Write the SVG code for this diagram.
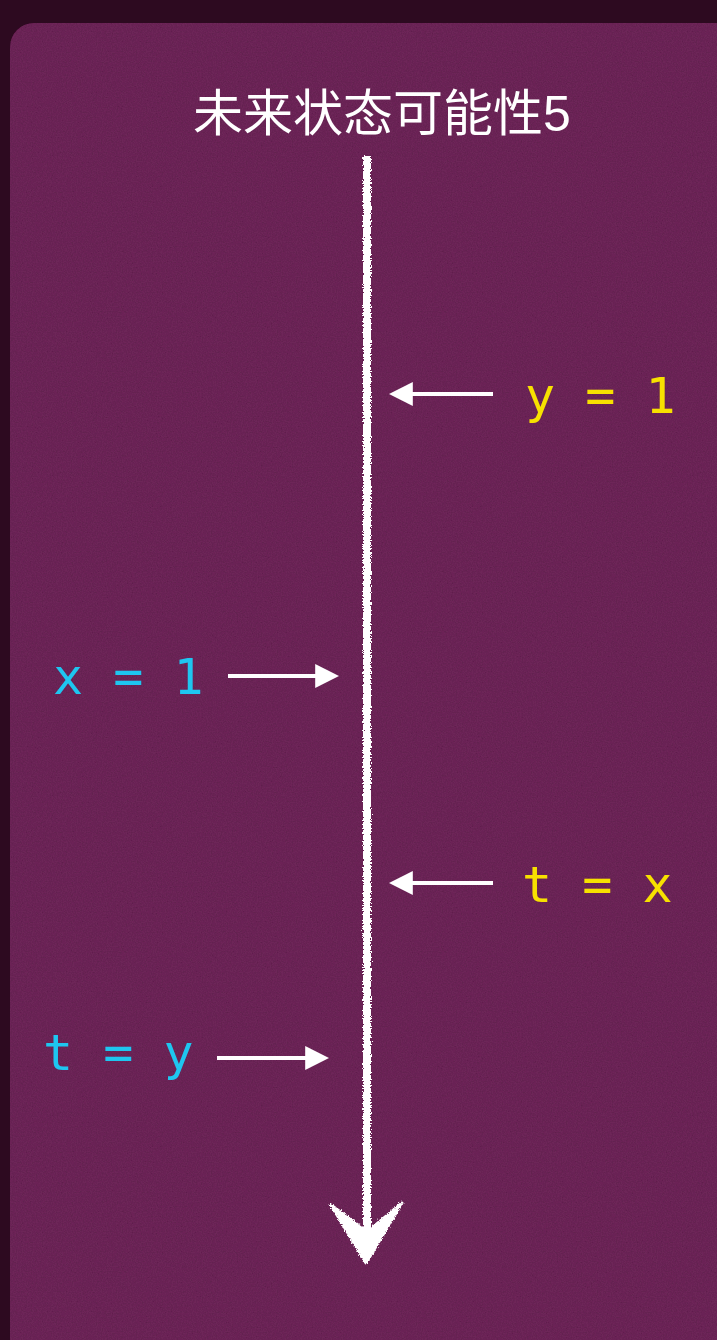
<svg xmlns="http://www.w3.org/2000/svg" width="717" height="1340" viewBox="0 0 717 1340">
  <style>
    .lbl { font-family: "DejaVu Sans Mono", "Liberation Mono", monospace; font-size: 50px; white-space: pre; }
    .yel { fill: #f7e100; }
    .cyn { fill: #1ec6f0; }
    .title { font-family: "Liberation Sans", "Noto Sans CJK SC", sans-serif; font-size: 50px; fill: #ffffff; }
    .arr { stroke: #ffffff; stroke-width: 4; fill: none; }
  </style>
  <defs>
    <filter id="paper" x="0" y="0" width="100%" height="100%">
      <feTurbulence type="fractalNoise" baseFrequency="0.8" numOctaves="2" seed="3" result="n"/>
      <feColorMatrix in="n" type="matrix" values="0 0 0 0 0  0 0 0 0 0  0 0 0 0 0  0.5 0 0 0 -0.2" result="c"/>
      <feComposite in="c" in2="SourceGraphic" operator="in" result="cc"/>
      <feMerge><feMergeNode in="SourceGraphic"/><feMergeNode in="cc"/></feMerge>
    </filter>
    <filter id="chalk" x="-50%" y="-5%" width="200%" height="110%">
      <feTurbulence type="fractalNoise" baseFrequency="0.7" numOctaves="2" seed="7" result="t"/>
      <feDisplacementMap in="SourceGraphic" in2="t" scale="5" xChannelSelector="R" yChannelSelector="G"/>
    </filter>
    <marker id="head" viewBox="0 0 10 10" refX="2" refY="5" markerWidth="6" markerHeight="6" markerUnits="strokeWidth" orient="auto">
      <path d="M0,0 L10,5 L0,10 Z" fill="#ffffff"/>
    </marker>
  </defs>
  <rect x="0" y="0" width="717" height="1340" fill="#2d0a20"/>
  <rect x="10" y="23" width="740" height="1360" rx="24" fill="#6d2658" filter="url(#paper)"/>

  <g id="title">
    <text class="title" x="382" y="131" text-anchor="middle">未来状态可能性5</text>
  </g>

  <g id="timeline" filter="url(#chalk)">
    <line x1="367" y1="156" x2="367" y2="1250" stroke="#ffffff" stroke-width="8"/>
    <path d="M331,1205 L366,1263 L402,1203 L372,1228 L362,1228 Z" fill="#ffffff" stroke="#ffffff" stroke-width="3" stroke-linejoin="round"/>
  </g>

  <g id="label-y1">
    <text class="lbl yel" x="525" y="413">y = 1</text>
  </g>
  <g id="label-x1">
    <text class="lbl cyn" x="53" y="694">x = 1</text>
  </g>
  <g id="label-tx">
    <text class="lbl yel" x="522" y="902">t = x</text>
  </g>
  <g id="label-ty">
    <text class="lbl cyn" x="43" y="1070">t = y</text>
  </g>

  <g id="connectors">
    <line class="arr" x1="493" y1="394" x2="408" y2="394" marker-end="url(#head)"/>
    <line class="arr" x1="228" y1="676" x2="320" y2="676" marker-end="url(#head)"/>
    <line class="arr" x1="493" y1="883" x2="408" y2="883" marker-end="url(#head)"/>
    <line class="arr" x1="217" y1="1058" x2="310" y2="1058" marker-end="url(#head)"/>
  </g>
</svg>
